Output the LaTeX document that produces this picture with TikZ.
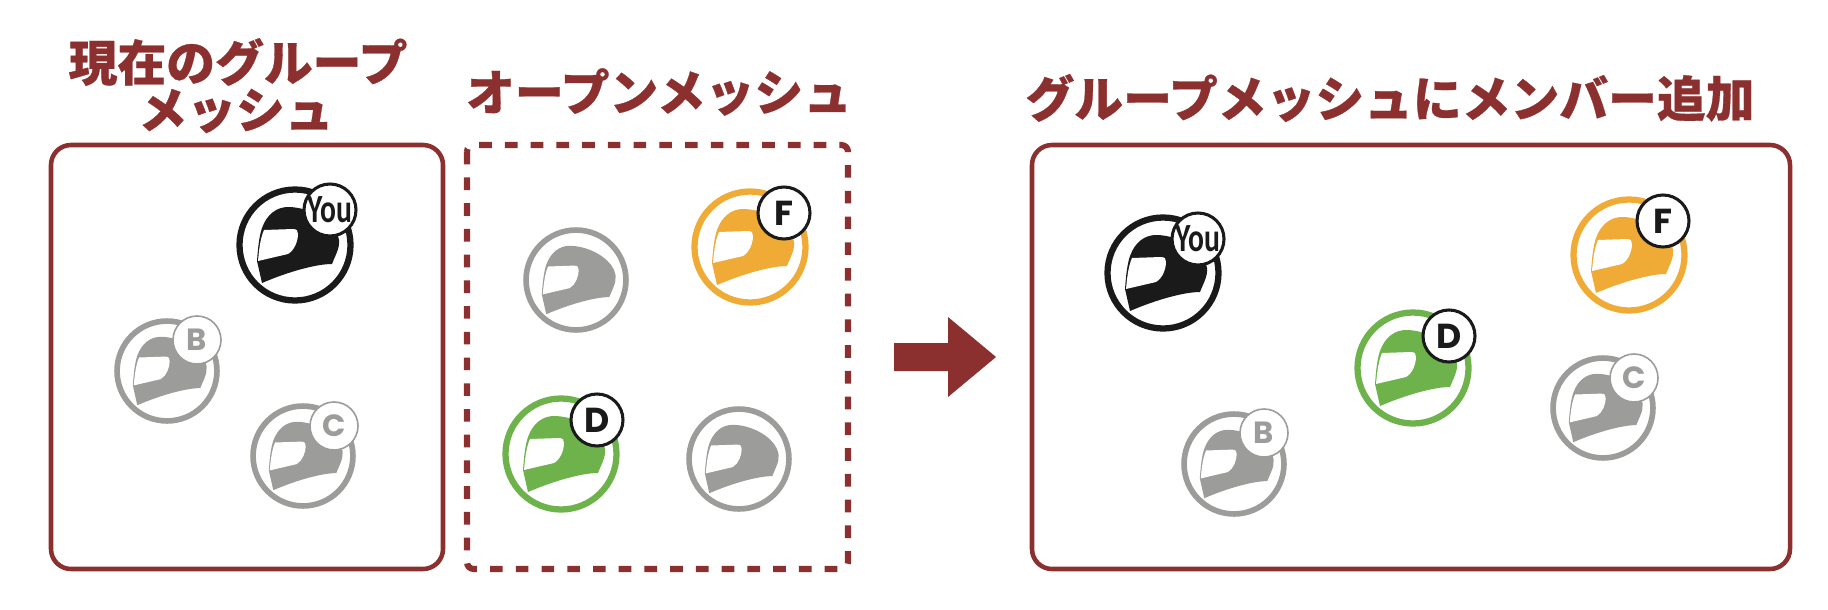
\documentclass[tikz,border=0pt]{standalone}
\usepackage{fontspec}
\usepackage{xcolor}
\newfontfamily\jpfont[FakeBold=0.6]{Noto Sans CJK JP Black}
\newfontfamily\badgefont{Poppins}
\newfontfamily\youfont[FakeStretch=0.74]{Carlito}

\definecolor{meshred}{HTML}{8C2F2F}
\definecolor{helmetblack}{HTML}{1A1A1A}
\definecolor{helmetgray}{HTML}{9C9C9A}
\definecolor{helmetorange}{HTML}{EFAB35}
\definecolor{helmetgreen}{HTML}{6DB24A}

\tikzset{
  title/.style={font=\jpfont\fontsize{36.6pt}{36.6pt}\selectfont, text=meshred, inner sep=0pt},
  meshbox/.style={draw=meshred, line width=3.4pt, rounded corners=15pt},
  meshdash/.style={draw=meshred, line width=4.6pt, dash pattern=on 9.5pt off 9.8pt, rounded corners=5pt},
  badgedark/.style={circle, draw=helmetblack, fill=white, line width=2.3pt, minimum size=39pt, inner sep=0pt, text=helmetblack, font=\badgefont\bfseries\fontsize{26pt}{26pt}\selectfont},
  badgelight/.style={circle, draw=helmetgray, fill=white, line width=1.2pt, minimum size=36pt, inner sep=0pt, text=helmetgray, font=\badgefont\bfseries\fontsize{23pt}{23pt}\selectfont},
  youtext/.style={font=\youfont\bfseries\fontsize{30pt}{30pt}\selectfont}
}

% ring, shell and visor of one helmet: x, y, scale, colour
\newcommand{\helmetbody}[4]{
  \begin{scope}[shift={(#1,#2)}, scale=#3]
    \draw[draw=#4, line width=#3*4.7pt] (0,0) circle (55.5);
    \fill[#4] (-33,38) -- (-38,16) .. controls (-37,3) and (-36,-8) .. (-33,-17)
      .. controls (-28,-31) and (-18,-38) .. (-7,-38)
      .. controls (14,-38) and (41,-24) .. (44,-5)
      .. controls (45,3) and (40,11) .. (37,19)
      .. controls (22,19) and (-5,26) .. (-33,38) -- cycle;
    \fill[white] (-37,16) .. controls (-36,6) and (-35,-6) .. (-31,-15) -- (-2,-16)
      .. controls (2,-16) and (3,-14) .. (3,-11)
      .. controls (3,-5) and (0,5) .. (-7,9) -- cycle;
  \end{scope}
}

\begin{document}
\begin{tikzpicture}[x=0.75pt, y=-0.75pt]
  \useasboundingbox (0,0) rectangle (1828,610);

  % Titles
  \node[title] (titlenow) at (238,62) {現在のグループ};
  \node[title] (titlenow2) at (236,111) {メッシュ};
  \node[title] (titleopen) at (659,92) {オープンメッシュ};
  \node[title] (titleadd) at (1390,98) {グループメッシュにメンバー追加};

  % Boxes
  \draw[meshbox] (51,145) rectangle (443,569);
  \draw[meshdash] (467,145) rectangle (848,569);
  \draw[meshbox] (1032,145) rectangle (1790,569);

  % Arrow
  \fill[meshred] (894,343) -- (948,343) -- (948,317) -- (996,357) -- (948,397) -- (948,371) -- (894,371) -- cycle;

  % Current group
  \helmetbody{295}{245}{1}{helmetblack}
  \node[badgedark, youtext] (you1) at (330,210) {You};
  \helmetbody{167}{371}{0.9}{helmetgray}
  \node[badgelight] (b1) at (197,340) {B};
  \helmetbody{303}{456}{0.9}{helmetgray}
  \node[badgelight] (c1) at (334,426) {C};

  % Open mesh
  \helmetbody{576}{280}{0.9}{helmetgray}
  \helmetbody{750}{247}{1}{helmetorange}
  \node[badgedark] (f1) at (784,213) {F};
  \helmetbody{561}{454}{1}{helmetgreen}
  \node[badgedark] (d1) at (597,420) {D};
  \helmetbody{739}{459}{0.9}{helmetgray}

  % Group after adding
  \helmetbody{1163}{273}{1}{helmetblack}
  \node[badgedark, youtext] (you2) at (1198,239) {You};
  \helmetbody{1629}{255}{1}{helmetorange}
  \node[badgedark] (f2) at (1663,221) {F};
  \helmetbody{1413}{368}{1}{helmetgreen}
  \node[badgedark] (d2) at (1449,336) {D};
  \helmetbody{1603}{408}{0.9}{helmetgray}
  \node[badgelight] (c2) at (1634,378) {C};
  \helmetbody{1234}{464}{0.9}{helmetgray}
  \node[badgelight] (b2) at (1264,433) {B};
\end{tikzpicture}
\end{document}
